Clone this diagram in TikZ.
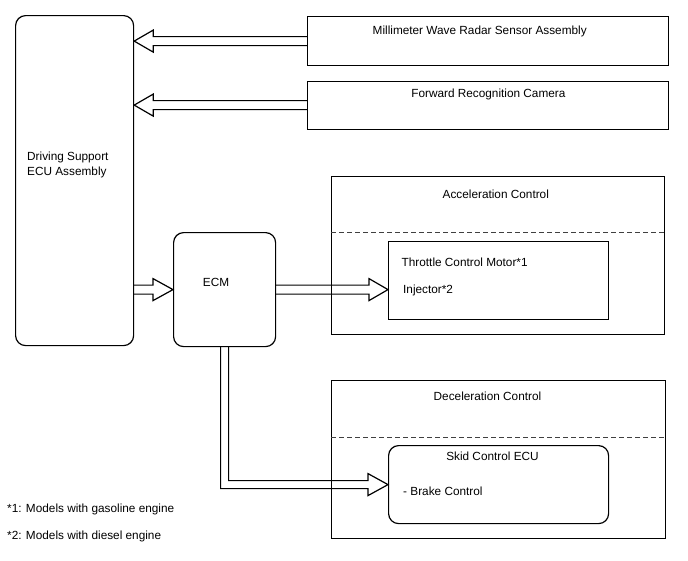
\documentclass[tikz,border=0pt]{standalone}
\usepackage{fontspec}
\setmainfont{Liberation Sans}
\usetikzlibrary{calc}
\begin{document}
\begin{tikzpicture}[x=1pt,y=-1pt,
  box/.style={draw, line width=1.2pt, inner sep=0pt, anchor=north west},
  rbox/.style={box, rounded corners=10pt},
  harrow/.style={draw, line width=1.2pt, line join=miter},
  dline/.style={draw, line width=0.8pt, dash pattern=on 5pt off 3pt, black!75},
  lbl/.style={inner sep=0pt, font=\fontsize{11.8}{14}\selectfont}]
\useasboundingbox (0,0) rectangle (688,560);
% boxes
\node[rbox, minimum width=118, minimum height=330] (dsecu) at (15,15) {};
\node[box, minimum width=361, minimum height=49] (mwr) at (307,16) {};
\node[box, minimum width=361, minimum height=48] (frc) at (307,80.5) {};
\node[rbox, minimum width=102, minimum height=114] (ecm) at (173,232) {};
\node[box, minimum width=333, minimum height=158] (acc) at (331,176) {};
\node[box, minimum width=220, minimum height=78] (tcm) at (388,241) {};
\node[box, minimum width=334, minimum height=158] (dec) at (331,380) {};
\node[rbox, minimum width=220, minimum height=78] (skid) at (388,445) {};
% dashed separators
\draw[dline] ($(acc.north west)+(0,56)$) -- ($(acc.north east)+(0,56)$);
\draw[dline] ($(dec.north west)+(0,57)$) -- ($(dec.north east)+(0,57)$);
% texts
\node[lbl, anchor=mid west] (t1) at (27,158) {Driving Support};
\node[lbl, anchor=mid west] (t2) at (27,173) {ECU Assembly};
\node[lbl, anchor=mid] (t3) at (479.7,32) {Millimeter Wave Radar Sensor Assembly};
\node[lbl, anchor=mid] (t4) at (488.4,95) {Forward Recognition Camera};
\node[lbl, anchor=mid] (t5) at (216,284) {ECM};
\node[lbl, anchor=mid] (t6) at (495.8,196) {Acceleration Control};
\node[lbl, anchor=mid west] (t7) at (401.5,264) {Throttle Control Motor*1};
\node[lbl, anchor=mid west] (t8) at (403,291) {Injector*2};
\node[lbl, anchor=mid] (t9) at (487.5,398) {Deceleration Control};
\node[lbl, anchor=mid] (t10) at (492.5,458) {Skid Control ECU};
\node[lbl, anchor=mid west] (t11) at (403,493) {- Brake Control};
\node[lbl, anchor=mid west] (t12) at (7,510) {*1: Models with gasoline engine};
\node[lbl, anchor=mid west] (t13) at (7,537) {*2: Models with diesel engine};
% hollow arrows
\draw[harrow] ($(mwr.west)+(0,-4.5)$) -- ($(dsecu.east |- mwr.west)+(19,-4.5)$) -- ++(0,-6.5)
  -- (dsecu.east |- mwr.west) -- ($(dsecu.east |- mwr.west)+(19,11)$) -- ++(0,-6.5) -- ($(mwr.west)+(0,4.5)$);
\draw[harrow] ($(frc.west)+(0,-4.5)$) -- ($(dsecu.east |- frc.west)+(19,-4.5)$) -- ++(0,-6.5)
  -- (dsecu.east |- frc.west) -- ($(dsecu.east |- frc.west)+(19,11)$) -- ++(0,-6.5) -- ($(frc.west)+(0,4.5)$);
\draw[harrow] ($(dsecu.east |- ecm.west)+(0,-4.5)$) -- ($(ecm.west)+(-20,-4.5)$) -- ++(0,-6.5)
  -- (ecm.west) -- ($(ecm.west)+(-20,11)$) -- ++(0,-6.5) -- ($(dsecu.east |- ecm.west)+(0,4.5)$);
\draw[harrow] ($(ecm.east)+(0,-4.5)$) -- ($(tcm.west |- ecm.east)+(-19,-4.5)$) -- ++(0,-6.5)
  -- (tcm.west |- ecm.east) -- ($(tcm.west |- ecm.east)+(-19,11)$) -- ++(0,-6.5) -- ($(ecm.east)+(0,4.5)$);
\draw[harrow] ($(ecm.south)+(-4,0)$) -- ($(ecm.south |- skid.west)+(-4,4)$) -- ($(skid.west)+(-20,4)$) -- ++(0,7)
  -- (skid.west) -- ($(skid.west)+(-20,-11)$) -- ++(0,7) -- ($(ecm.south |- skid.west)+(4,-4)$) -- ($(ecm.south)+(4,0)$);
\end{tikzpicture}
\end{document}
